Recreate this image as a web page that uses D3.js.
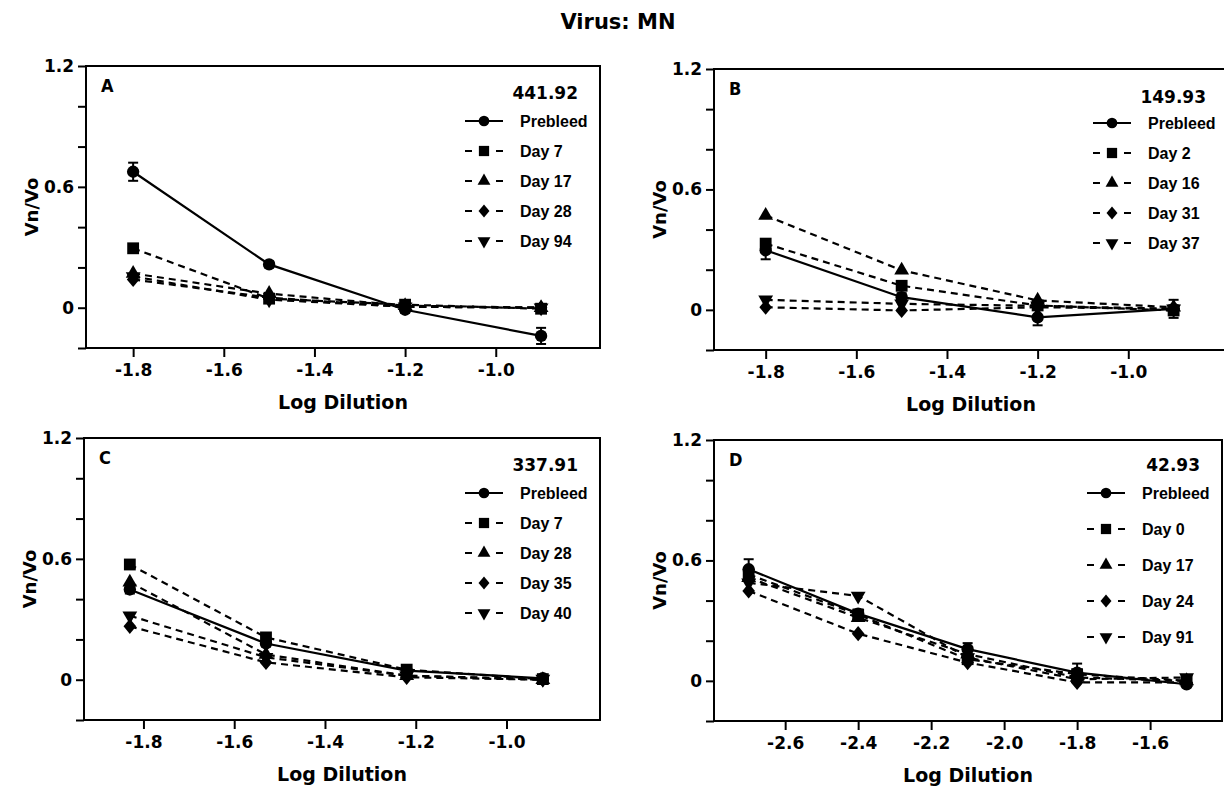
<!DOCTYPE html>
<html>
<head>
<meta charset="utf-8">
<script src="https://cdn.jsdelivr.net/npm/d3@7"></script>
<style>
body { margin: 0; background: #fff; }
svg text { font-family: "DejaVu Sans", sans-serif; font-weight: bold; fill: #000; }
</style>
</head>
<body>
<script>
// log dilutions for each panel
var dilA = [-1.8, -1.5, -1.2, -0.9];
var dilB = [-1.8, -1.5, -1.2, -0.9];
var dilC = [-1.83, -1.53, -1.22, -0.92];
var dilD = [-2.7, -2.4, -2.1, -1.8, -1.5];

// series names (first one is always the prebleed)
var namesA = ["Prebleed", "Day 7", "Day 17", "Day 28", "Day 94"];
var namesB = ["Prebleed", "Day 2", "Day 16", "Day 31", "Day 37"];
var namesC = ["Prebleed", "Day 7", "Day 28", "Day 35", "Day 40"];
var namesD = ["Prebleed", "Day 0", "Day 17", "Day 24", "Day 91"];

// Vn/Vo values, one row per series
var valsA = [
  [0.675, 0.215, -0.01, -0.14],
  [0.295, 0.045, 0.015, -0.005],
  [0.17, 0.07, 0.01, 0.0],
  [0.14, 0.05, 0.005, 0.0],
  [0.155, 0.04, 0.005, 0.0]
];
var valsB = [
  [0.297, 0.063, -0.037, 0.005],
  [0.33, 0.12, 0.022, -0.003],
  [0.47, 0.197, 0.047, 0.013],
  [0.013, -0.003, 0.013, 0.005],
  [0.05, 0.03, 0.02, 0.005]
];
var valsC = [
  [0.448, 0.18, 0.045, 0.007],
  [0.572, 0.21, 0.05, 0.003],
  [0.484, 0.125, 0.02, 0.0],
  [0.265, 0.086, 0.012, 0.0],
  [0.318, 0.111, 0.02, 0.003]
];
var valsD = [
  [0.556, 0.335, 0.158, 0.041, -0.017],
  [0.53, 0.33, 0.108, 0.033, 0.0],
  [0.514, 0.315, 0.133, 0.017, 0.0],
  [0.448, 0.235, 0.091, -0.008, -0.008],
  [0.489, 0.423, 0.116, 0.008, 0.017]
];

// error bars on the prebleed curve
var errA = [0.045, 0.015, 0.015, 0.04];
var errB = [0.045, 0.02, 0.04, 0.045];
var errC = [0.02, 0.015, 0.01, 0.01];
var errD = [0.05, 0.02, 0.03, 0.045, 0.015];

var titers = ["441.92", "149.93", "337.91", "42.93"];
var letters = ["A", "B", "C", "D"];

var xTicksABC = [-1.8, -1.6, -1.4, -1.2, -1.0];
var xTicksD = [-2.6, -2.4, -2.2, -2.0, -1.8, -1.6];
var yTicks = [-0.2, 0, 0.2, 0.4, 0.6, 0.8, 1.0, 1.2];
var yLabels = {"0": "0", "0.6": "0.6", "1.2": "1.2"};

// panel boxes in page pixels
var panels = [
  {x: dilA, names: namesA, vals: valsA, err: errA, ticks: xTicksABC, dom: [-1.904, -0.77], left: 86, right: 600, top: 66, bottom: 348, first: 55, gap: 30, tOff: 27},
  {x: dilB, names: namesB, vals: valsB, err: errB, ticks: xTicksABC, dom: [-1.914, -0.78], left: 714, right: 1228, top: 69, bottom: 350, first: 54, gap: 30, tOff: 28},
  {x: dilC, names: namesC, vals: valsC, err: errC, ticks: xTicksABC, dom: [-1.931, -0.794], left: 84, right: 600, top: 438, bottom: 720, first: 55, gap: 30, tOff: 27},
  {x: dilD, names: namesD, vals: valsD, err: errD, ticks: xTicksD, dom: [-2.795, -1.403], left: 714, right: 1222, top: 440, bottom: 721, first: 53, gap: 36, tOff: 25}
];

// diamond a bit taller than wide, like the printed one
var tallDiamond = {
  draw: function(ctx, size) {
    var r = Math.sqrt(size / 2);
    ctx.moveTo(0, -r * 1.2);
    ctx.lineTo(r, 0);
    ctx.lineTo(0, r * 1.2);
    ctx.lineTo(-r, 0);
    ctx.closePath();
  }
};

var symbols = [d3.symbolCircle, d3.symbolSquare, d3.symbolTriangle, tallDiamond, d3.symbolTriangle];
var symSize = [120, 140, 95, 80, 95];
var symRot = [0, 0, 0, 0, 180];

var svg = d3.select("body").append("svg")
    .attr("width", 1224)
    .attr("height", 787);

svg.append("text")
    .attr("x", 618)
    .attr("y", 22)
    .attr("text-anchor", "middle")
    .attr("dominant-baseline", "central")
    .style("font-size", "21px")
    .text("Virus: MN");

panels.forEach(function(p, pi) {
  var x = d3.scaleLinear().domain(p.dom).range([p.left, p.right]);
  var y = d3.scaleLinear().domain([-0.2, 1.2]).range([p.bottom, p.top]);
  var g = svg.append("g");

  // y axis
  var ya = g.append("g")
      .attr("transform", "translate(" + p.left + ",0)")
      .call(d3.axisLeft(y).tickValues(yTicks).tickSize(8).tickPadding(4)
        .tickFormat(function(d) { var k = String(+d.toFixed(1)); return yLabels[k] || ""; }));
  ya.select(".domain").remove();
  ya.selectAll("line").attr("stroke", "#000").attr("stroke-width", 2);
  ya.selectAll("text").style("font-size", "17px").style("font-family", "'DejaVu Sans', sans-serif").style("font-weight", "bold");

  // x axis
  var xa = g.append("g")
      .attr("transform", "translate(0," + p.bottom + ")")
      .call(d3.axisBottom(x).tickValues(p.ticks).tickSize(9).tickPadding(7)
        .tickFormat(function(d) { return d.toFixed(1); }));
  xa.select(".domain").remove();
  xa.selectAll("line").attr("stroke", "#000").attr("stroke-width", 2);
  xa.selectAll("text").style("font-size", "17px").style("font-family", "'DejaVu Sans', sans-serif").style("font-weight", "bold");

  // frame
  g.append("rect")
      .attr("x", p.left).attr("y", p.top)
      .attr("width", p.right - p.left).attr("height", p.bottom - p.top)
      .attr("fill", "none").attr("stroke", "#000").attr("stroke-width", 2);

  g.append("text")
      .attr("x", (p.left + p.right) / 2)
      .attr("y", p.bottom + 54)
      .attr("text-anchor", "middle")
      .attr("dominant-baseline", "central")
      .style("font-size", "19px")
      .text("Log Dilution");

  g.append("text")
      .attr("transform", "translate(" + (p.left - 55) + "," + ((p.top + p.bottom) / 2) + ") rotate(-90)")
      .attr("text-anchor", "middle")
      .attr("dominant-baseline", "central")
      .style("font-size", "18px")
      .text("Vn/Vo");

  g.append("text")
      .attr("x", p.left + 15)
      .attr("y", p.top + 19)
      .attr("dominant-baseline", "central")
      .style("font-family", "'DejaVu Sans Condensed', 'Liberation Sans Narrow', sans-serif")
      .style("font-size", "18px")
      .text(letters[pi]);

  // curves, dashed ones first
  var line = d3.line()
      .x(function(d) { return x(d[0]); })
      .y(function(d) { return y(d[1]); });

  for (var s = p.vals.length - 1; s >= 0; s--) {
    var pts = p.x.map(function(v, i) { return [v, p.vals[s][i]]; });
    g.append("path")
        .datum(pts)
        .attr("d", line)
        .attr("fill", "none")
        .attr("stroke", "#000")
        .attr("stroke-width", 2.2)
        .attr("stroke-dasharray", s == 0 ? null : "7,5");

    if (s == 0) {
      pts.forEach(function(d, i) {
        var e = p.err[i];
        if (e <= 0) return;
        g.append("line")
            .attr("x1", x(d[0])).attr("x2", x(d[0]))
            .attr("y1", y(d[1] - e)).attr("y2", y(d[1] + e))
            .attr("stroke", "#000").attr("stroke-width", 2);
        [-e, e].forEach(function(o) {
          g.append("line")
              .attr("x1", x(d[0]) - 5).attr("x2", x(d[0]) + 5)
              .attr("y1", y(d[1] + o)).attr("y2", y(d[1] + o))
              .attr("stroke", "#000").attr("stroke-width", 2);
        });
      });
    }

    g.selectAll(null)
        .data(pts)
      .enter().append("path")
        .attr("d", d3.symbol().type(symbols[s]).size(symSize[s]))
        .attr("transform", function(d) { return "translate(" + x(d[0]) + "," + y(d[1]) + ") rotate(" + symRot[s] + ")"; })
        .attr("fill", "#000");
  }

  // legend
  g.append("text")
      .attr("x", p.right - 22)
      .attr("y", p.top + p.tOff)
      .attr("text-anchor", "end")
      .attr("dominant-baseline", "central")
      .style("font-size", "17px")
      .text(titers[pi]);

  p.names.forEach(function(name, s) {
    var cy = p.top + p.first + s * p.gap;
    var cx = p.right - 116;
    g.append("line")
        .attr("x1", cx - 19).attr("x2", cx + 19)
        .attr("y1", cy).attr("y2", cy)
        .attr("stroke", "#000").attr("stroke-width", 2.2)
        .attr("stroke-dasharray", s == 0 ? null : "7,24,7");
    g.append("path")
        .attr("d", d3.symbol().type(symbols[s]).size(symSize[s] * 0.75))
        .attr("transform", "translate(" + cx + "," + cy + ") rotate(" + symRot[s] + ")")
        .attr("fill", "#000");
    g.append("text")
        .attr("x", p.right - 80)
        .attr("y", cy)
        .attr("dominant-baseline", "central")
        .style("font-family", "'Liberation Sans', Arial, sans-serif")
        .style("font-size", "16px")
        .text(name);
  });
});
</script>
</body>
</html>
